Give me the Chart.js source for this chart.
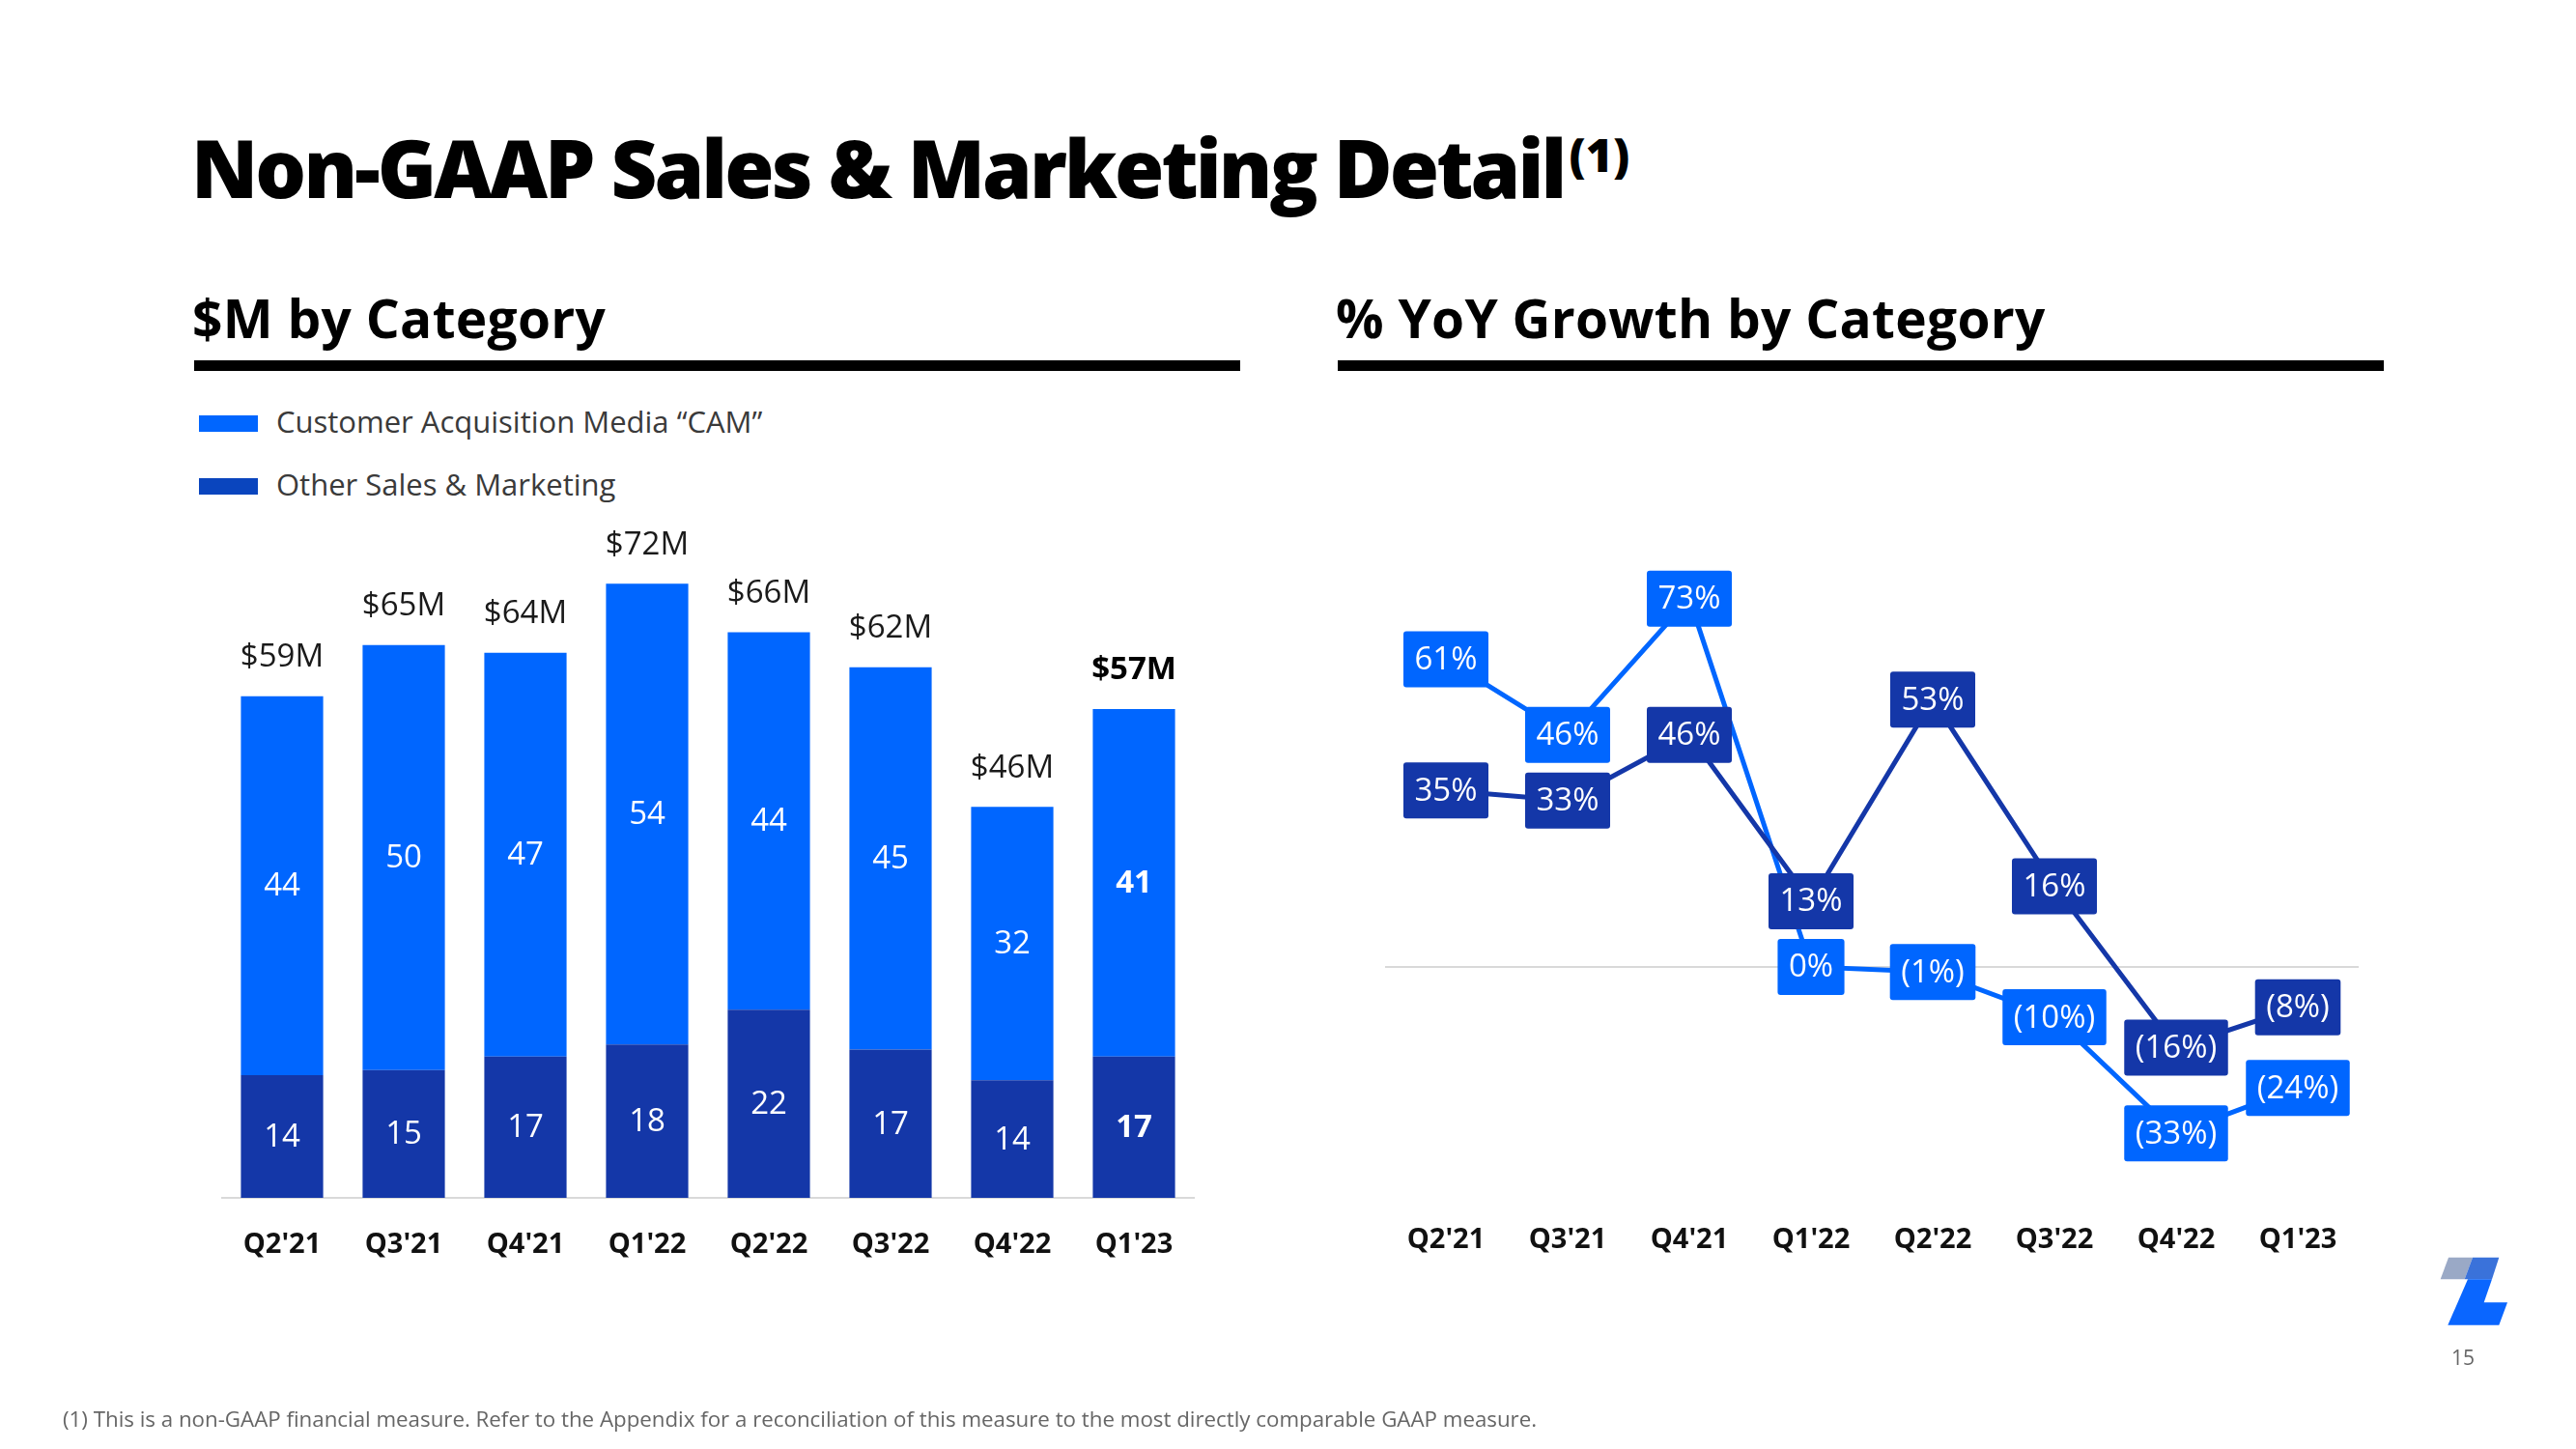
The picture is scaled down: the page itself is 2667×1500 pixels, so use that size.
<!DOCTYPE html>
<html>
<head>
<meta charset="utf-8">
<script src="https://cdn.jsdelivr.net/npm/chart.js@4/dist/chart.umd.min.js"></script>
<style>
  html, body { margin:0; padding:0; background:#fff; }
  body { width:2667px; height:1500px; position:relative; overflow:hidden; font-family:"Open Sans", sans-serif; }
  .abs { position:absolute; }
  #title { left:198px; top:131px; font-size:83px; font-weight:800; color:#000; letter-spacing:-2.85px; white-space:nowrap; line-height:1; }
  #title .sup { font-size:48px; font-weight:800; position:relative; top:-27px; letter-spacing:0; margin-left:5px; }
  .sub { font-size:55px; font-weight:700; color:#000; white-space:nowrap; line-height:1; letter-spacing:0.3px; }
  .rule { height:11px; background:#000; }
  .leg-sw { width:61px; height:17px; }
  .leg-tx { font-size:31px; color:#3a3a3a; white-space:nowrap; line-height:1; }
  #foot { left:65px; top:1458px; font-size:22.3px; color:#666; white-space:nowrap; line-height:1; }
  #page { left:2538px; top:1395px; font-size:21px; color:#666; line-height:1; }
</style>
</head>
<body>
<div id="title" class="abs">Non-GAAP Sales &amp; Marketing Detail<span class="sup">(1)</span></div>

<div class="abs sub" style="left:199px; top:301px;">$M by Category</div>
<div class="abs rule" style="left:201px; top:373px; width:1083px;"></div>
<div class="abs sub" style="left:1383px; top:301px;">% YoY Growth by Category</div>
<div class="abs rule" style="left:1385px; top:373px; width:1083px;"></div>

<div class="abs leg-sw" style="left:206px; top:430px; background:#0066FF;"></div>
<div class="abs leg-tx" style="left:286px; top:421px;">Customer Acquisition Media “CAM”</div>
<div class="abs leg-sw" style="left:206px; top:495px; background:#0A45BE;"></div>
<div class="abs leg-tx" style="left:286px; top:486px;">Other Sales &amp; Marketing</div>

<div class="abs" style="left:229px; top:540px; width:1008px; height:780px;"><canvas id="bars"></canvas></div>
<div class="abs" style="left:1434px; top:540px; width:1008px; height:780px;"><canvas id="lines"></canvas></div>

<svg class="abs" style="left:0; top:0;" width="2667" height="1500" viewBox="0 0 2667 1500">
  <polygon points="2535,1301.7 2560,1301.7 2551.7,1324.3 2526.7,1324.3" fill="#9AA9C6"/>
  <polygon points="2560,1301.7 2587.3,1301.7 2580,1324.3 2551.7,1324.3" fill="#3A72DA"/>
  <polygon points="2555,1324.3 2580,1324.3 2571.7,1348.3 2596,1348.3 2587.3,1371.7 2534.3,1371.7" fill="#0A66FF"/>
</svg>
<div id="page" class="abs">15</div>
<div id="foot" class="abs">(1) This is a non-GAAP financial measure. Refer to the Appendix for a reconciliation of this measure to the most directly comparable GAAP measure.</div>

<script>
const categories = ["Q2'21", "Q3'21", "Q4'21", "Q1'22", "Q2'22", "Q3'22", "Q4'22", "Q1'23"];
const otherSM = [14.4, 15.0, 16.6, 18.0, 22.1, 17.4, 13.8, 16.6];
const cam = [44.49, 49.9, 47.4, 54.1, 44.3, 44.9, 32.1, 40.8];
const camGrowth = [61, 46, 73, 0, -1, -10, -33, -24];
const otherGrowth = [35, 33, 46, 13, 53, 16, -16, -8];

const CAM_COLOR = '#0066FF';
const OTHER_COLOR = '#1437A8';
const FONT = '"Open Sans", sans-serif';
const lastIdx = categories.length - 1;

const barLabels = {
  id: 'barLabels',
  afterDatasetsDraw(chart) {
    const ctx = chart.ctx;
    ctx.save();
    ctx.textAlign = 'center';
    ctx.textBaseline = 'middle';
    chart.data.datasets.forEach((ds, di) => {
      chart.getDatasetMeta(di).data.forEach((bar, i) => {
        ctx.font = (i === lastIdx ? '700 ' : '400 ') + '33px ' + FONT;
        ctx.fillStyle = '#ffffff';
        ctx.fillText(String(Math.round(ds.data[i])), bar.x, (bar.y + bar.base) / 2 + 1);
      });
    });
    const topMeta = chart.getDatasetMeta(1);
    topMeta.data.forEach((bar, i) => {
      const total = otherSM[i] + cam[i];
      ctx.font = (i === lastIdx ? '700 ' : '400 ') + '33px ' + FONT;
      ctx.fillStyle = i === lastIdx ? '#000' : '#1a1a1a';
      ctx.fillText('$' + Math.round(total) + 'M', bar.x, bar.y - 40);
    });
    ctx.restore();
  }
};

function fmtPct(v) { return v < 0 ? '(' + Math.abs(v) + '%)' : v + '%'; }

const lineBoxes = {
  id: 'lineBoxes',
  afterDatasetsDraw(chart) {
    const ctx = chart.ctx;
    ctx.save();
    ctx.font = '400 33px ' + FONT;
    ctx.textAlign = 'center';
    ctx.textBaseline = 'middle';
    [1, 0].forEach(di => {
      const ds = chart.data.datasets[di];
      chart.getDatasetMeta(di).data.forEach((pt, i) => {
        const txt = fmtPct(ds.data[i]);
        const w = ctx.measureText(txt).width + 23;
        const h = 58;
        ctx.fillStyle = ds.borderColor;
        ctx.beginPath();
        ctx.roundRect(pt.x - w / 2, pt.y - h / 2, w, h, 3);
        ctx.fill();
        ctx.fillStyle = '#ffffff';
        ctx.fillText(txt, pt.x, pt.y + 1);
      });
    });
    ctx.restore();
  }
};

new Chart(document.getElementById('bars'), {
  type: 'bar',
  data: {
    labels: categories,
    datasets: [
      { label: 'Other Sales & Marketing', data: otherSM, backgroundColor: OTHER_COLOR, stack: 's' },
      { label: 'Customer Acquisition Media “CAM”', data: cam, backgroundColor: CAM_COLOR, stack: 's' }
    ]
  },
  options: {
    responsive: true, maintainAspectRatio: false, animation: false,
    layout: { padding: 0 },
    plugins: { legend: { display: false }, tooltip: { enabled: false } },
    datasets: { bar: { categoryPercentage: 1, barPercentage: 0.676 } },
    scales: {
      x: {
        stacked: true,
        grid: { display: false },
        border: { display: true, color: '#d9d9d9', width: 2 },
        ticks: { font: { family: FONT, size: 29, weight: '700', lineHeight: 81 / 29 }, color: '#111', padding: 0, maxRotation: 0 },
        afterFit(s) { s.height = 80; s.paddingLeft = 0; s.paddingRight = 0; }
      },
      y: { stacked: true, display: false, min: 0, max: 79.4 }
    }
  },
  plugins: [barLabels]
});

new Chart(document.getElementById('lines'), {
  type: 'line',
  data: {
    labels: categories,
    datasets: [
      { label: 'Other Sales & Marketing', data: otherGrowth, borderColor: OTHER_COLOR, borderWidth: 5, pointRadius: 0, tension: 0, fill: false },
      { label: 'Customer Acquisition Media “CAM”', data: camGrowth, borderColor: CAM_COLOR, borderWidth: 5, pointRadius: 0, tension: 0, fill: false }
    ]
  },
  options: {
    responsive: true, maintainAspectRatio: false, animation: false,
    layout: { padding: 0 },
    plugins: { legend: { display: false }, tooltip: { enabled: false } },
    scales: {
      x: {
        offset: true,
        grid: { display: false },
        border: { display: false },
        ticks: { font: { family: FONT, size: 29, weight: '700', lineHeight: 71 / 29 }, color: '#111', padding: 0, maxRotation: 0 },
        afterFit(s) { s.height = 80; s.paddingLeft = 0; s.paddingRight = 0; }
      },
      y: {
        min: -45.8, max: 88.3,
        ticks: { display: false, stepSize: 10 },
        border: { display: false },
        grid: { drawTicks: false, lineWidth: 2, color: c => (c.tick && c.tick.value === 0) ? '#d9d9d9' : 'rgba(0,0,0,0)' },
        afterFit(s) { s.width = 0; }
      }
    }
  },
  plugins: [lineBoxes]
});
</script>
</body>
</html>
